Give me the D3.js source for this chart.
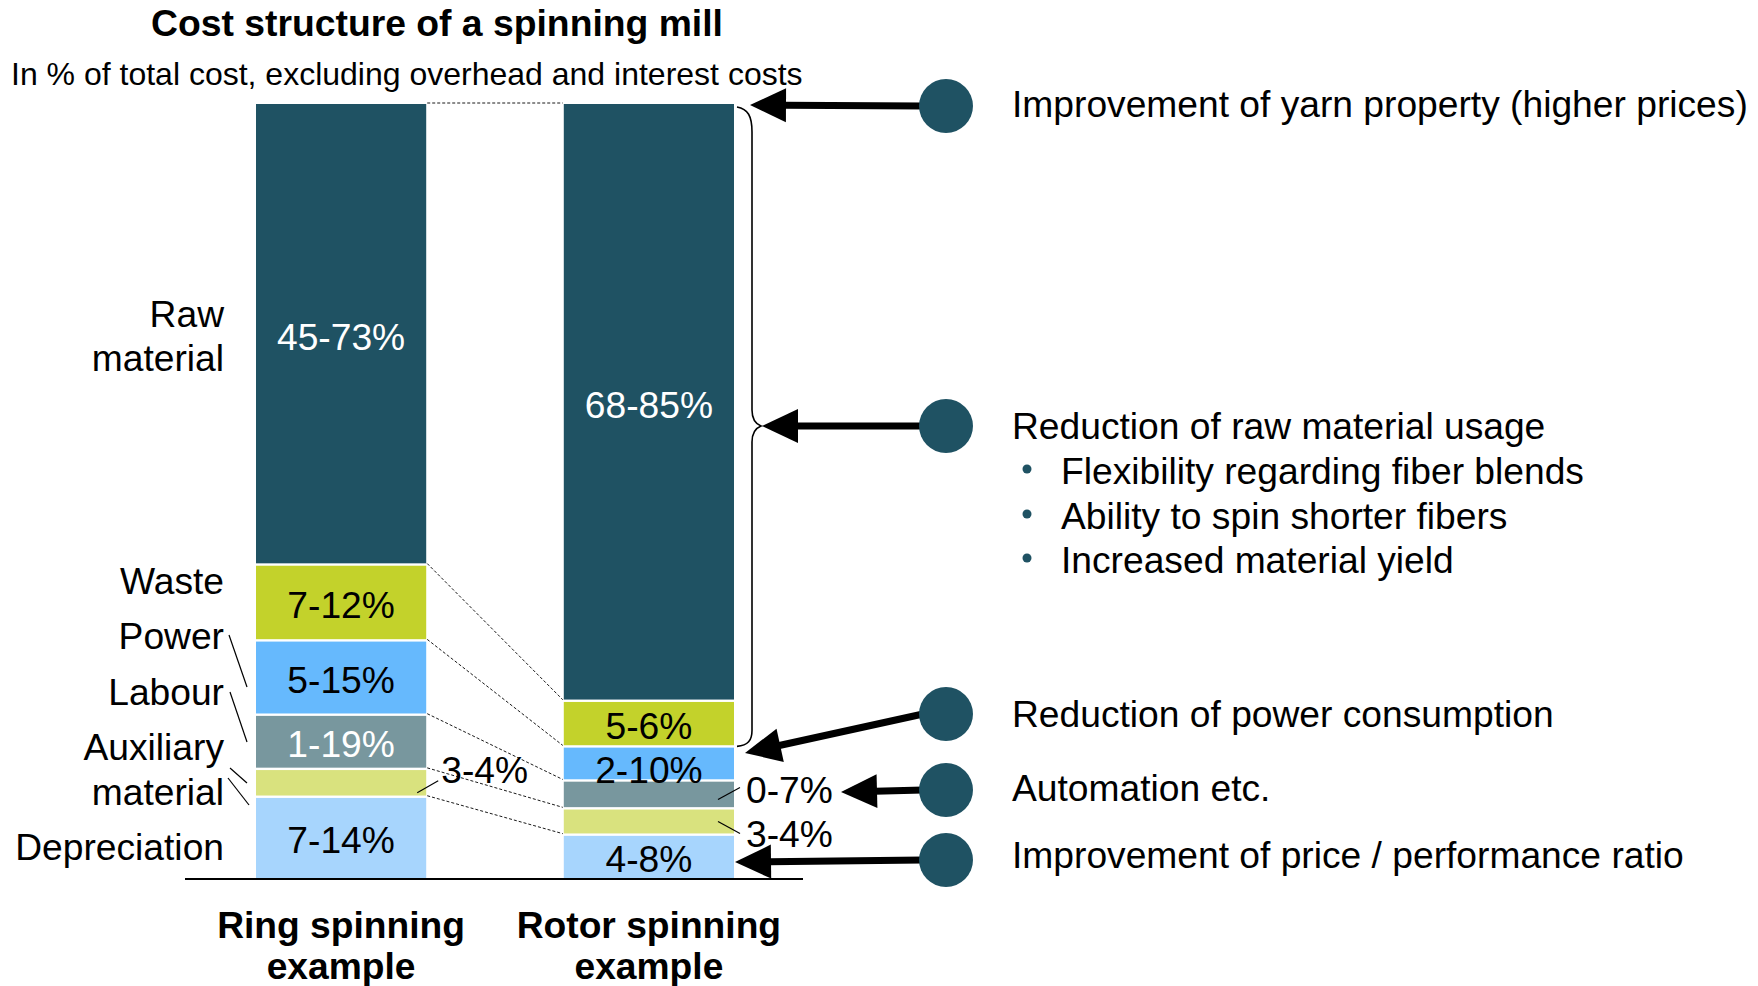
<!DOCTYPE html>
<html><head><meta charset="utf-8">
<script src="https://cdn.jsdelivr.net/npm/d3@7/dist/d3.min.js"></script>
<style>
html,body{margin:0;padding:0;background:#fff;}
svg text{font-family:"Liberation Sans",Arial,Helvetica,sans-serif;}
</style></head>
<body>
<svg id="chart" width="1758" height="986"></svg>
<script>
// ---- data ----
const categories = ["Raw material","Waste","Power","Labour","Auxiliary material","Depreciation"];
const bars = ["Ring spinning example","Rotor spinning example"];
const ringValues  = [59.5, 9.8, 9.6, 7.0, 3.6, 10.5];
const rotorValues = [77.1, 5.9, 4.4, 3.6, 3.4, 5.6];
const ringLabels  = ["45-73%","7-12%","5-15%","1-19%","3-4%","7-14%"];
const rotorLabels = ["68-85%","5-6%","2-10%","0-7%","3-4%","4-8%"];
const colors = ["#1f5263","#c3d22b","#66b9fd","#78979e","#d9e27e","#a7d5fd"];
const textColors = ["#fff","#000","#000","#fff","#000","#000"];
const catLabelLines = [["Raw","material"],["Waste"],["Power"],["Labour"],["Auxiliary","material"],["Depreciation"]];
const benefits = ["Improvement of yarn property (higher prices)","Reduction of raw material usage","Reduction of power consumption","Automation etc.","Improvement of price / performance ratio"];
const bullets = ["Flexibility regarding fiber blends","Ability to spin shorter fibers","Increased material yield"];

const svg = d3.select("#chart");
const FS = 37.2;

const x = d3.scaleBand().domain(bars).range([256, 734]).paddingInner(0.447).paddingOuter(0);
const y = d3.scaleLinear().domain([0, 100]).range([878, 104]);
const bw = x.bandwidth();

// stacks (bottom = last category)
function stack(values){
  const out = []; let cum = 0;
  for (let i = values.length - 1; i >= 0; i--) {
    out[i] = {i, v: values[i], y0: cum, y1: cum + values[i]};
    cum += values[i];
  }
  return out;
}
const series = [
  {bar: bars[0], segs: stack(ringValues), labels: ringLabels},
  {bar: bars[1], segs: stack(rotorValues), labels: rotorLabels}
];

// dashed connectors
const ringS = series[0].segs, rotS = series[1].segs;
const gConn = svg.append("g");
ringS.forEach((s, i) => {
  gConn.append("line")
    .attr("x1", x(bars[0]) + bw + 1).attr("y1", y(s.y1) - 1)
    .attr("x2", x(bars[1]) - 1).attr("y2", y(rotS[i].y1) - 1)
    .attr("stroke", "#000").attr("stroke-width", 0.9).attr("stroke-dasharray", "3,2");
});

// bars
series.forEach(sr => {
  const g = svg.append("g");
  g.selectAll("rect").data(sr.segs).join("rect")
    .attr("x", x(sr.bar)).attr("width", bw)
    .attr("y", d => y(d.y1) + (d.y1 >= 99.99 ? 0 : 1.2))
    .attr("height", d => y(d.y0) - y(d.y1) - (d.y1 >= 99.99 ? 1.2 : 2.4) + (d.y0 === 0 ? 1.2 : 0))
    .attr("fill", d => colors[d.i]);
  g.selectAll("text").data(sr.segs.filter(d => (y(d.y0) - y(d.y1)) >= 30)).join("text")
    .attr("x", x(sr.bar) + bw / 2)
    .attr("y", d => {
      const h = y(d.y0) - y(d.y1);
      return (y(d.y0) + y(d.y1)) / 2 + FS * 0.36 + 2 + (h < 40 ? 4 : 0);
    })
    .attr("text-anchor", "middle").attr("font-size", FS)
    .attr("fill", d => textColors[d.i])
    .text(d => sr.labels[d.i]);
});

// outside labels with leaders
const outside = [
  {s: 0, i: 4, lx1: x(bars[0]) + bw - 9, ly1: 10, lx2: x(bars[0]) + bw + 12, ly2: -2, tx: x(bars[0]) + bw + 15, ty: -13},
  {s: 1, i: 3, lx1: x(bars[1]) + bw - 16, ly1: 5, lx2: x(bars[1]) + bw + 6, ly2: -7, tx: x(bars[1]) + bw + 12, ty: -5},
  {s: 1, i: 4, lx1: x(bars[1]) + bw - 16, ly1: 0, lx2: x(bars[1]) + bw + 6, ly2: 12, tx: x(bars[1]) + bw + 12, ty: 12}
];
outside.forEach(o => {
  const seg = series[o.s].segs[o.i];
  const mid = (y(seg.y0) + y(seg.y1)) / 2;
  svg.append("line").attr("x1", o.lx1).attr("y1", mid + o.ly1).attr("x2", o.lx2).attr("y2", mid + o.ly2)
    .attr("stroke", "#000").attr("stroke-width", 1.2);
  svg.append("text").attr("x", o.tx).attr("y", mid + o.ty + FS * 0.36)
    .attr("font-size", FS).attr("fill", "#000").text(series[o.s].labels[o.i]);
});

// axis baseline
svg.append("line").attr("x1", 185).attr("x2", 803).attr("y1", 879).attr("y2", 879)
  .attr("stroke", "#000").attr("stroke-width", 2);

// bar names
bars.forEach((b, k) => {
  const words = k === 0 ? ["Ring spinning", "example"] : ["Rotor spinning", "example"];
  words.forEach((w, j) => {
    svg.append("text").attr("x", x(b) + bw / 2).attr("y", 938 + j * 41)
      .attr("text-anchor", "middle").attr("font-size", FS).attr("font-weight", "bold").text(w);
  });
});

// category labels
const catBase = [[327, 371], [594], [649], [705], [760, 805], [860]];
catLabelLines.forEach((lines, i) => {
  lines.forEach((t, j) => {
    svg.append("text").attr("x", 224).attr("y", catBase[i][j]).attr("text-anchor", "end")
      .attr("font-size", FS).text(t);
  });
});
// category leader lines
[[229,635,247,687],[230,692,247,742],[230,768,247,783],[228,778,249,805]].forEach(l => {
  svg.append("line").attr("x1", l[0]).attr("y1", l[1]).attr("x2", l[2]).attr("y2", l[3])
    .attr("stroke", "#000").attr("stroke-width", 1.2);
});

// title
svg.append("text").attr("x", 437).attr("y", 36).attr("text-anchor", "middle")
  .attr("font-size", 37.3).attr("font-weight", "bold").text("Cost structure of a spinning mill");
svg.append("text").attr("x", 11).attr("y", 85).attr("font-size", 32)
  .text("In % of total cost, excluding overhead and interest costs");

// brace
const bx = x(bars[1]) + bw;
svg.append("path")
  .attr("d", `M${bx+3},${y(100)+3} C${bx+14},${y(100)+5} ${bx+18},${y(100)+12} ${bx+18},${y(100)+28} L${bx+18},410 C${bx+18},420 ${bx+22},424 ${bx+27},426 C${bx+22},428 ${bx+18},432 ${bx+18},442 L${bx+18},${y(rotS[1].y0)-16} C${bx+18},${y(rotS[1].y0)-6} ${bx+14},${y(rotS[1].y0)-1} ${bx+3},${y(rotS[1].y0)}`)
  .attr("fill", "none").attr("stroke", "#000").attr("stroke-width", 1.6);

// arrows & circles
const circleX = 946, circleR = 27;
const circleY = [106, 426, 714, 790, 860];
const tips = [[750, 105], [762, 426], [745, 753], [841, 792], [735, 862]];
function arrow(x1, y1, x2, y2){
  const dx = x2 - x1, dy = y2 - y1, L = Math.hypot(dx, dy);
  const ux = dx / L, uy = dy / L, px = -uy, py = ux;
  const HL = 36, HW = 17;
  const bxh = x2 - ux * HL, byh = y2 - uy * HL;
  svg.append("line").attr("x1", x1).attr("y1", y1).attr("x2", bxh + ux * 2).attr("y2", byh + uy * 2)
    .attr("stroke", "#000").attr("stroke-width", 7);
  svg.append("path").attr("d", `M${x2},${y2} L${bxh + px * HW},${byh + py * HW} L${bxh - px * HW},${byh - py * HW} Z`)
    .attr("fill", "#000");
}
circleY.forEach((cy, k) => {
  arrow(circleX - circleR + 4, cy, tips[k][0], tips[k][1]);
});
svg.selectAll("circle.b").data(circleY).join("circle").attr("class", "b")
  .attr("cx", circleX).attr("cy", d => d).attr("r", circleR).attr("fill", "#1f5263");

// benefit texts
const benefitY = [104, 426, 714, 788, 855];
benefits.forEach((t, k) => {
  svg.append("text").attr("x", 1012).attr("y", benefitY[k] + FS * 0.36).attr("font-size", FS).text(t);
});
const bulletY = [471, 516, 560];
bullets.forEach((t, k) => {
  svg.append("circle").attr("cx", 1027).attr("cy", bulletY[k] - 2).attr("r", 4.5).attr("fill", "#1f5263");
  svg.append("text").attr("x", 1061).attr("y", bulletY[k] + FS * 0.36).attr("font-size", FS).text(t);
});
</script>
</body></html>
